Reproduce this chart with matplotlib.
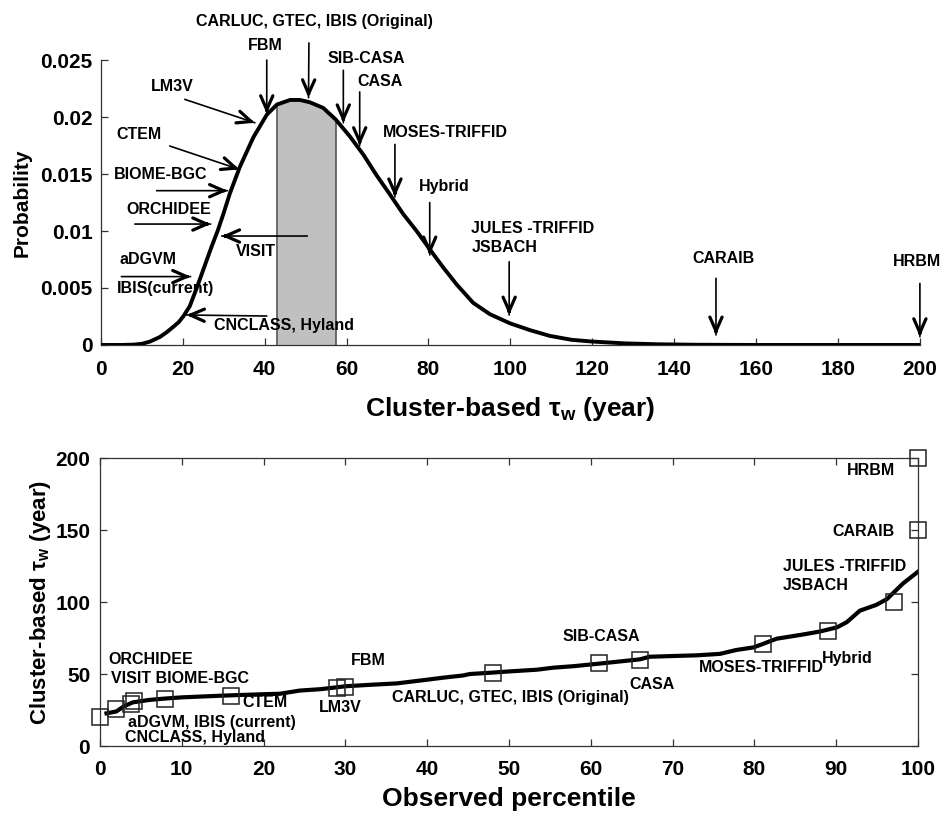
import numpy as np
import matplotlib
matplotlib.use('Agg')
import matplotlib.pyplot as plt

plt.rcParams['font.family'] = ['Liberation Sans', 'DejaVu Sans']
plt.rcParams['font.weight'] = 'bold'
plt.rcParams['mathtext.fontset'] = 'custom'
plt.rcParams['mathtext.rm'] = 'Liberation Sans:bold'
plt.rcParams['mathtext.it'] = 'Liberation Sans:italic'

# ---- top panel: probability curve of cluster-based tau_w ----
tau = [0, 5, 8, 10, 12, 14.4, 16, 17.7, 19, 20.1, 21.7, 23.4, 25, 27, 28.6, 30,
       31.5, 33.9, 37.2, 40.5, 43, 46.2, 48.6, 51, 54.3, 57.3, 60.8, 64.1, 67.3,
       70.6, 73.8, 77.1, 80.3, 83.6, 86.9, 90.9, 95, 99.9, 104.8, 109.6, 115,
       120, 128, 136, 145, 160, 200]
prob = [0, 0, 0.00003, 0.0001, 0.0003, 0.0007, 0.0011, 0.0016, 0.0020, 0.0025,
        0.0034, 0.0050, 0.0066, 0.0086, 0.0101, 0.0116, 0.0133, 0.0156, 0.0182,
        0.0202, 0.0211, 0.0215, 0.0215, 0.0213, 0.0208, 0.0198, 0.0183, 0.0167,
        0.0149, 0.0132, 0.0115, 0.0100, 0.0084, 0.0068, 0.0053, 0.0037, 0.0027,
        0.0019, 0.0013, 0.0008, 0.00045, 0.0003, 0.00014, 0.00006, 0.00002, 0, 0]
shade_lo, shade_hi = 43, 57.3

top_labels = ['CARLUC, GTEC, IBIS (Original)', 'FBM', 'SIB-CASA', 'CASA',
              'MOSES-TRIFFID', 'Hybrid', 'LM3V', 'CTEM', 'BIOME-BGC', 'ORCHIDEE',
              'VISIT', 'aDGVM', 'IBIS(current)', 'CNCLASS, Hyland',
              'JULES -TRIFFID', 'JSBACH', 'CARAIB', 'HRBM']
top_label_xy = [(52.1, 0.02836), (40.2, 0.0263), (64.9, 0.02515), (68.1, 0.0231),
                (68.8, 0.01866), (77.7, 0.01389), (17.5, 0.02266), (9.4, 0.01851),
                (3.2, 0.0150), (6.1, 0.0119), (33, 0.00818), (4.6, 0.00746),
                (4.0, 0.00497), (27.6, 0.00175), (90.5, 0.01023), (90.5, 0.00857),
                (152, 0.0076), (199.3, 0.0073)]
top_label_ha = ['center', 'center', 'center', 'center', 'left', 'left', 'center',
                'center', 'left', 'left', 'left', 'left', 'left', 'left', 'left',
                'left', 'center', 'center']

# arrows: tail -> tip
arrow_tail = [(40.5, 0.0250), (50.8, 0.0265), (59.2, 0.0241), (63.2, 0.0222),
              (71.8, 0.0176), (80.3, 0.0125), (20.5, 0.02155), (16.8, 0.01746),
              (13.6, 0.01354), (8.3, 0.01061), (50.4, 0.00956), (5.0, 0.0060),
              (40.5, 0.00254), (99.7, 0.0073), (150.2, 0.00585), (200, 0.0054)]
arrow_tip = [(40.5, 0.0203), (50.7, 0.0217), (59.2, 0.0195), (63.2, 0.0175),
             (71.8, 0.0130), (80.3, 0.0079), (37.6, 0.0195), (33.8, 0.01541),
             (30.9, 0.01354), (26.8, 0.01061), (29.5, 0.00956), (21.9, 0.0060),
             (20.9, 0.00263), (99.7, 0.00263), (150.2, 0.00088), (200, 0.00073)]

# ---- bottom panel: tau_w against observed percentile ----
pct = [0.8, 2, 2.9, 4, 6, 8, 10, 15, 20, 22, 24.4, 27, 30, 33, 36.3, 39.9, 42,
       44.4, 45.2, 48, 50, 53.4, 55.4, 58, 61, 64, 66, 67.2, 70, 73, 75.8, 77.8,
       79.9, 81.1, 82.7, 86, 88, 90.1, 91.3, 92.9, 94.9, 96.2, 98.2, 100]
tau_pct = [22.7, 24, 27.5, 30.3, 32, 33, 33.8, 35, 36, 36.3, 38.5, 39.5, 41.5,
           42.5, 43.5, 46, 47.5, 49, 50, 51, 51.8, 53, 54.4, 55.5, 57.2, 59, 60.2,
           62, 62.5, 63, 64, 66.7, 68.5, 71, 74.5, 77.5, 79.5, 82.4, 86, 94, 98,
           102, 113, 121]

model_pct = [0, 2, 3.8, 4.2, 8, 16, 29, 30, 48, 61, 66, 81.1, 89, 97.1, 100, 100]
model_tau = [20, 25.5, 29, 31, 33, 35, 40, 41, 50.5, 58, 60, 70.8, 80, 99.8, 150, 200]

bot_labels = ['ORCHIDEE', 'VISIT BIOME-BGC', 'CTEM', 'aDGVM, IBIS (current)',
              'CNCLASS, Hyland', 'FBM', 'LM3V', 'CARLUC, GTEC, IBIS (Original)',
              'SIB-CASA', 'CASA', 'MOSES-TRIFFID', 'Hybrid', 'JULES -TRIFFID',
              'JSBACH', 'CARAIB', 'HRBM']
bot_label_xy = [(1.0, 60.4), (1.3, 47), (17.4, 30), (3.4, 16), (3.1, 6),
                (30.7, 59.7), (26.8, 27), (35.7, 33.8), (56.6, 76.4), (64.7, 42.8),
                (73.2, 54.4), (88.2, 61), (83.5, 124.5), (83.5, 111.3),
                (89.5, 149), (91.3, 191)]

spine_c = '#333333'
tau_label = 'Cluster-based τ$_{\\mathrm{w}}$ (year)'

fig = plt.figure(figsize=(9.43, 8.14), dpi=100)

ax1 = fig.add_axes([0.107, 0.5762, 0.8685, 0.350])
ax1.plot(tau, prob, color='black', lw=2.8, zorder=3)
tau_a = np.array(tau)
prob_a = np.array(prob)
m = (tau_a >= shade_lo) & (tau_a <= shade_hi)
ax1.fill_between(tau_a[m], 0, prob_a[m], color='#c0c0c0', lw=0, zorder=1)
ax1.vlines([tau_a[m][0], tau_a[m][-1]], 0, [prob_a[m][0], prob_a[m][-1]],
           color='#555555', lw=1.2, zorder=2)
ax1.set_xlim(0, 200)
ax1.set_ylim(0, 0.025)
ax1.set_xticks(range(0, 201, 20))
ax1.set_yticks([0, 0.005, 0.01, 0.015, 0.02, 0.025])
ax1.set_yticklabels(['0', '0.005', '0.01', '0.015', '0.02', '0.025'])
for s in ['top', 'right']:
    ax1.spines[s].set_visible(False)
for s in ['left', 'bottom']:
    ax1.spines[s].set_color(spine_c)
    ax1.spines[s].set_linewidth(0.9)
ax1.tick_params(direction='in', length=5, width=0.9, color=spine_c, labelsize=15)
ax1.tick_params(axis='x', pad=11)
ax1.tick_params(axis='y', pad=6)
ax1.set_ylabel('Probability', fontsize=15, fontweight='bold', va='center')
ax1.yaxis.set_label_coords(-0.096, 0.5)
ax1.set_xlabel(tau_label, fontsize=19, fontweight='bold', va='center')
ax1.xaxis.set_label_coords(0.5, -0.225)

for lab, (x, y), ha in zip(top_labels, top_label_xy, top_label_ha):
    ax1.text(x, y, lab, ha=ha, va='center', fontsize=11.5, fontweight='bold',
             clip_on=False, zorder=4)

for tail, tip in zip(arrow_tail, arrow_tip):
    ax1.annotate('', xy=tip, xytext=tail, annotation_clip=False,
                 arrowprops=dict(arrowstyle='-', lw=1.2, color='black',
                                 shrinkA=0, shrinkB=0))
    d = ax1.transData.transform(tip) - ax1.transData.transform(tail)
    u = d / np.hypot(*d)
    ax1.annotate('', xy=tip, xytext=(-u[0] * 5, -u[1] * 5),
                 textcoords='offset pixels', annotation_clip=False,
                 arrowprops=dict(arrowstyle='->,head_length=0.5,head_width=0.22',
                                 mutation_scale=20, lw=2.3, color='black',
                                 shrinkA=0, shrinkB=0))

ax2 = fig.add_axes([0.106, 0.0835, 0.8674, 0.3538])
ax2.plot(pct, tau_pct, color='black', lw=3, zorder=3)
ax2.plot(model_pct, model_tau, linestyle='none', marker='s', markersize=12,
         markerfacecolor='none', markeredgecolor='#222222', markeredgewidth=1.1,
         clip_on=False, zorder=4)
ax2.set_xlim(0, 100)
ax2.set_ylim(0, 200)
ax2.set_xticks(range(0, 101, 10))
ax2.set_yticks(range(0, 201, 50))
for s in ax2.spines.values():
    s.set_color(spine_c)
    s.set_linewidth(0.9)
ax2.tick_params(direction='in', length=5, width=0.9, color=spine_c,
                labelsize=15, pad=7, top=True, right=True)
ax2.tick_params(axis='x', pad=10)
ax2.set_ylabel(tau_label, fontsize=16, fontweight='bold', va='center')
ax2.yaxis.set_label_coords(-0.073, 0.5)
ax2.set_xlabel('Observed percentile', fontsize=19, fontweight='bold', va='center')
ax2.xaxis.set_label_coords(0.5, -0.185)

for lab, (x, y) in zip(bot_labels, bot_label_xy):
    ax2.text(x, y, lab, ha='left', va='center', fontsize=11.5, fontweight='bold',
             zorder=5)

fig.savefig('out.png', dpi=100, facecolor='white')
